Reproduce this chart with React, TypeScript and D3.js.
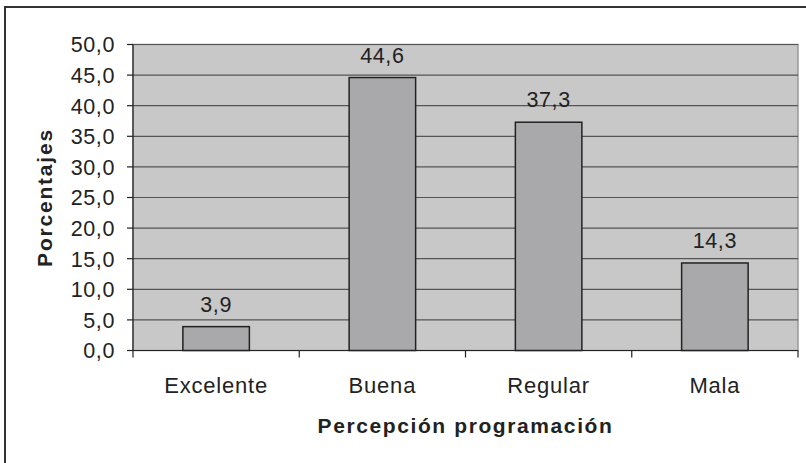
import React from "react";
import * as d3 from "d3";

const categories = ["Excelente", "Buena", "Regular", "Mala"];
const values = [3.9, 44.6, 37.3, 14.3];
const yTicks = [0, 5, 10, 15, 20, 25, 30, 35, 40, 45, 50];

export default function App() {
  const W = 806, H = 463;
  const left = 133, right = 798, top = 44.5, bottom = 350.5;
  const x = d3.scaleBand<string>().domain(categories).range([left, right]).paddingInner(0).paddingOuter(0);
  const y = d3.scaleLinear().domain([0, 50]).range([bottom, top]);
  const bw = x.bandwidth() * 0.4;
  const fmt = (v: number) => v.toFixed(1).replace(".", ",");
  const font = "'Liberation Sans', Arial, sans-serif";
  return (
    <svg width={W} height={H} style={{ position: "absolute", left: 0, top: 0 }} fontFamily={font}>
      <rect x={0} y={0} width={W} height={H} fill="#fff" />
      <rect x={5} y={7} width={W + 10} height={H + 10} fill="none" stroke="#333" strokeWidth={2} />
      <rect x={left} y={top} width={right - left} height={bottom - top} fill="#c8c8c8" stroke="#999" strokeWidth={1.5} />
      {yTicks.map((t) => (
        <g key={t}>
          {t > 0 && <line x1={left} x2={right} y1={y(t)} y2={y(t)} stroke="#555" strokeWidth={1.2} />}
          <line x1={127} x2={left} y1={y(t)} y2={y(t)} stroke="#222" strokeWidth={1.2} />
          <text x={115} y={y(t) + 7.8} textAnchor="end" fontSize={21.5} letterSpacing={0.6} fill="#222">{fmt(t)}</text>
        </g>
      ))}
      <line x1={left} x2={left} y1={top} y2={bottom} stroke="#222" strokeWidth={1.2} />
      <line x1={left} x2={right} y1={bottom} y2={bottom} stroke="#222" strokeWidth={1.2} />
      {categories.map((c) => (
        <line key={"t" + c} x1={x(c)!} x2={x(c)!} y1={bottom} y2={bottom + 7} stroke="#222" strokeWidth={1.2} />
      ))}
      <line x1={right} x2={right} y1={bottom} y2={bottom + 7} stroke="#222" strokeWidth={1.2} />
      {categories.map((c, i) => {
        const cx = x(c)! + x.bandwidth() / 2;
        return (
          <g key={c}>
            <rect x={cx - bw / 2} y={y(values[i])} width={bw} height={bottom - y(values[i])} fill="#a9a9ab" stroke="#222" strokeWidth={1.5} />
            <text x={cx} y={y(values[i]) - 15} textAnchor="middle" fontSize={21.5} letterSpacing={0.6} fill="#222">{fmt(values[i])}</text>
            <text x={cx} y={393} textAnchor="middle" fontSize={22} letterSpacing={0.8} fill="#222">{c}</text>
          </g>
        );
      })}
      <text x={(left + right) / 2} y={433} textAnchor="middle" fontSize={21} fontWeight="bold" letterSpacing={1.6} fill="#222">Percepción programación</text>
      <text transform={`translate(52,${(top + bottom) / 2}) rotate(-90)`} textAnchor="middle" fontSize={21} fontWeight="bold" letterSpacing={1.8} fill="#222">Porcentajes</text>
    </svg>
  );
}
